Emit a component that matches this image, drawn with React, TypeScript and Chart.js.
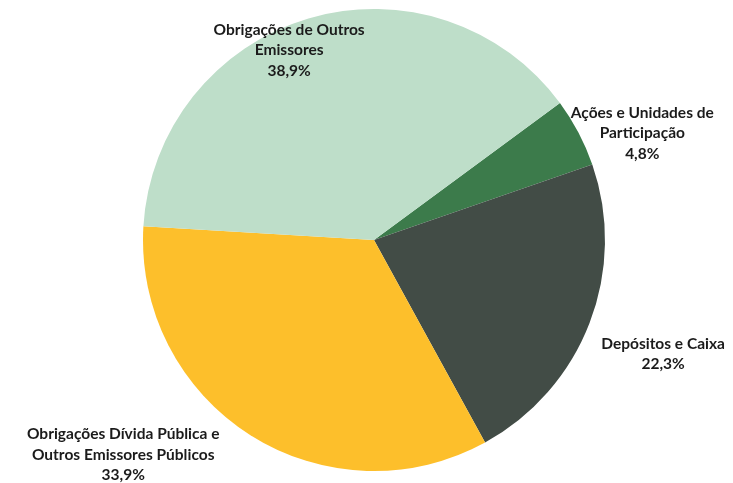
import React, { useEffect, useRef } from "react";
import { Chart, registerables } from "chart.js";

Chart.register(...registerables);

const categories = [
  ["Ações e Unidades de", "Participação"],
  ["Depósitos e Caixa"],
  ["Obrigações Dívida Pública e", "Outros Emissores Públicos"],
  ["Obrigações de Outros", "Emissores"],
];
const shares = [4.8, 22.3, 33.9, 38.9];
const shareLabels = ["4,8%", "22,3%", "33,9%", "38,9%"];
const colors = ["#3C7B4B", "#424C46", "#FDBF2B", "#BEDEC9"];
// label placement: polar angle (deg clockwise from top) and radius factor
const labelAngles = [68.3, 111.5, 229.4, 335.9];
const labelRadii = [1.25, 1.345, 1.43, 0.9];

const labelPlugin = {
  id: "sliceLabels",
  afterDatasetsDraw(chart: any) {
    const ctx = chart.ctx;
    const meta = chart.getDatasetMeta(0);
    ctx.save();
    ctx.font = "bold 15.5px Lato, 'Open Sans', sans-serif";
    ctx.fillStyle = "#1b1b1b";
    ctx.textAlign = "center";
    ctx.textBaseline = "middle";
    meta.data.forEach((arc: any, i: number) => {
      const { x, y, outerRadius } = arc.getProps(["x", "y", "outerRadius"], true);
      const a = (labelAngles[i] * Math.PI) / 180;
      const r = outerRadius * labelRadii[i];
      const cx = x + Math.sin(a) * r;
      const cy = y - Math.cos(a) * r;
      const lines = [...categories[i], shareLabels[i]];
      const lh = 20.5;
      const mid = (lines.length - 1) / 2;
      lines.forEach((t, k) => {
        ctx.fillText(t, cx, cy + (k - mid) * lh);
      });
    });
    ctx.restore();
  },
};

export default function App() {
  const ref = useRef<HTMLCanvasElement>(null);
  useEffect(() => {
    document.body.style.margin = "0";
    const chart = new Chart(ref.current!, {
      type: "pie",
      data: {
        labels: categories.map((c) => c.join(" ")),
        datasets: [
          {
            data: shares,
            backgroundColor: colors,
            borderWidth: 0,
          },
        ],
      },
      options: {
        animation: false,
        responsive: false,
        rotation: 53.6,
        layout: { padding: { left: 143, right: 128, top: 9, bottom: 12 } },
        plugins: {
          legend: { display: false },
          tooltip: { enabled: false },
        },
      },
      plugins: [labelPlugin],
    });
    return () => chart.destroy();
  }, []);
  return (
    <div style={{ width: 733, height: 483, background: "#fff" }}>
      <canvas ref={ref} width={733} height={483} />
    </div>
  );
}
